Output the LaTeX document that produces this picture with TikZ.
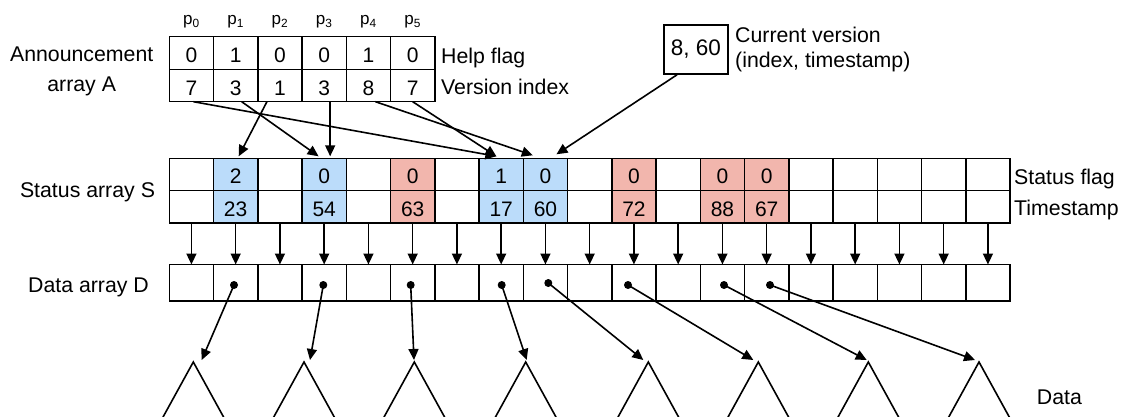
\documentclass[tikz,border=0pt]{standalone}
\usepackage{fontspec}
\setmainfont{Liberation Sans}
\usetikzlibrary{arrows.meta,calc}
\definecolor{cblue}{RGB}{187,220,250}
\definecolor{cred}{RGB}{242,182,173}
\begin{document}
\begin{tikzpicture}[x=1pt,y=-1pt,
  cell/.style={draw,line width=1.6pt,minimum width=44.25pt,inner sep=0pt,outer sep=0pt,
    text height=19pt,text depth=0pt,font=\fontsize{21}{24}\selectfont},
  lbl/.style={font=\fontsize{21.3}{30}\selectfont,inner sep=0pt},
  plbl/.style={font=\fontsize{17}{20}\selectfont,inner sep=0pt},
  arr/.style={line width=1.6pt,-{Triangle[length=11pt,width=10pt]}},
  dot/.style={circle,fill,inner sep=0pt,minimum size=8pt},
  tri/.style={line width=1.6pt}]
\clip (0,0) rectangle (1121,417);

% Announcement array A
\foreach \f/\v [count=\i from 0] in {0/7,1/3,0/1,0/3,1/8,0/7} {
  \node[cell,minimum height=33pt] (af\i) at ({169.3+44.25*(\i+0.5)},53.2) {\f};
  \node[cell,minimum height=32pt] (av\i) at ({169.3+44.25*(\i+0.5)},85.7) {\v};
  \node[plbl] (p\i) at ({169.3+44.25*(\i+0.5)},22) {p\textsubscript{\i}};
}
\node[lbl,align=center] (alab) at (81.7,71) {Announcement\\array A};
\node[lbl,anchor=base west] (hf) at (441,64) {Help flag};
\node[lbl,anchor=base west] (vi) at (441,94.3) {Version index};

% Current version
\node[draw,line width=1.6pt,minimum width=64pt,minimum height=49pt,inner sep=0pt,
  font=\fontsize{22.5}{24}\selectfont] (cur) at (696,49.5) {8, 60};
\node[lbl,anchor=west,align=left,font=\fontsize{21.3}{25}\selectfont] (curl) at (735,49) {Current version\\(index, timestamp)};

% Status array S
\foreach \f/\t/\c [count=\i from 0] in {{}/{}/white,2/23/cblue,{}/{}/white,0/54/cblue,{}/{}/white,
  0/63/cred,{}/{}/white,1/17/cblue,0/60/cblue,{}/{}/white,0/72/cred,{}/{}/white,0/88/cred,0/67/cred,
  {}/{}/white,{}/{}/white,{}/{}/white,{}/{}/white,{}/{}/white} {
  \node[cell,fill=\c,minimum height=32.2pt] (sf\i) at ({169.3+44.25*(\i+0.5)},174.4) {\f};
  \node[cell,fill=\c,minimum height=32.2pt] (st\i) at ({169.3+44.25*(\i+0.5)},206.6) {\t};
}
\node[lbl,anchor=base] (slab) at (87.5,197.3) {Status array S};
\node[lbl,anchor=base west] (sfl) at (1014,184) {Status flag};
\node[lbl,anchor=base west] (tsl) at (1014,215.3) {Timestamp};

% Data array D
\foreach \i in {0,...,18} {
  \node[cell,minimum height=36.5pt] (d\i) at ({169.3+44.25*(\i+0.5)},282.75) {};
  \draw[arr] (st\i.south) -- (d\i.north);
}
\node[lbl,anchor=base] (dlab) at (88.5,292) {Data array D};

% arrows from A to S
\draw[arr] ($(av0.south)+(2,0)$) -- ($(sf7.north)+(-4.8,-2)$);
\draw[arr] ($(av1.south)+(6,0)$) -- ($(sf3.north)+(-5.6,-2)$);
\draw[arr] ($(av2.south)+(-13,0)$) -- ($(sf1.north)+(3,-2)$);
\draw[arr] ($(av3.south)+(6,0)$) -- ($(sf3.north)+(6,-2)$);
\draw[arr] ($(av4.south)+(7,0)$) -- ($(sf8.north)+(-12.6,-3)$);
\draw[arr] (av5.south) -- ($(sf7.north)+(-4.8,-2)$);
\draw[arr] ($(cur.south)+(-19,0)$) -- ($(sf8.north)+(11,-4)$);

% dots, triangles and pointers
\foreach \dx/\dy/\tx/\ex [count=\k] in {234/285/193.3/201.7, 323.3/285/304/310, 410.7/285/414.3/414,
  501.7/285/525.7/526.7, 548.3/283/648.3/643.3, 628/285/758.3/753.3, 724/285/868.3/866.7, 770/285/979/975} {
  \node[dot] (k\k) at (\dx,\dy) {};
  \coordinate (t\k) at (\tx,362);
  \coordinate (e\k) at (\ex,360);
  \draw[tri] ($(t\k)+(-33,60)$) -- (t\k) -- ($(t\k)+(33,60)$);
  \draw[arr] (k\k.center) -- (e\k);
}
\node[lbl,anchor=base west] (data) at (1036.7,404) {Data};
\end{tikzpicture}
\end{document}
